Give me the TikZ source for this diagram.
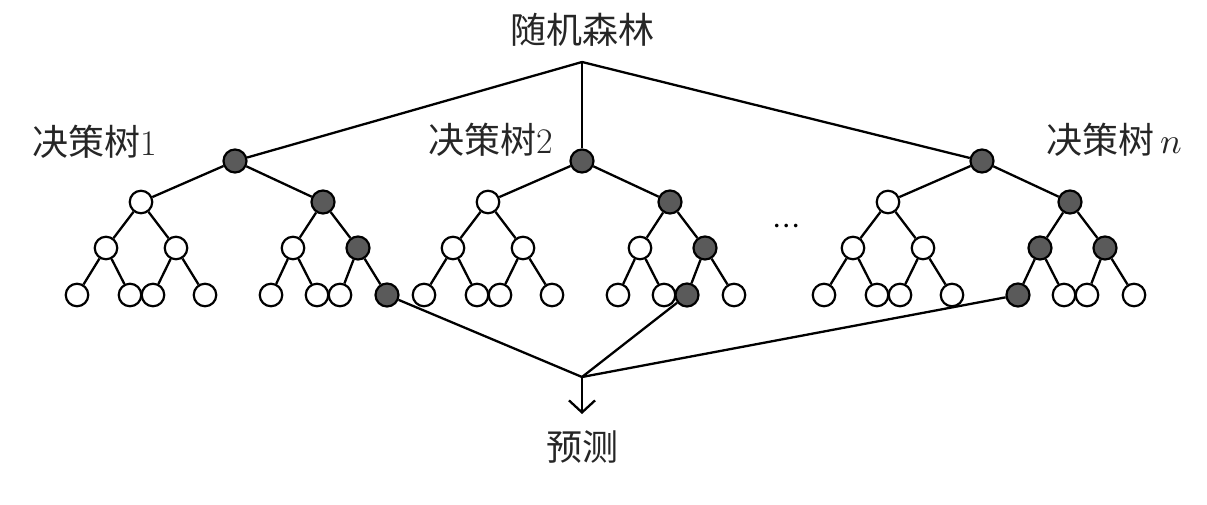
\documentclass[tikz,border=0pt]{standalone}
\usepackage{fontspec}
\usepackage{unicode-math}
\newfontfamily\cjk{Noto Sans CJK SC}
\usetikzlibrary{arrows.meta}
\definecolor{darkfill}{RGB}{90,90,90}
\newcommand\mytree[8]{%
\begin{scope}[shift={(#2,161)}]
\node[dnode] (#1r) at (0,0) {};
\node[wnode] (#1a) at (-94,41) {};
\node[dnode] (#1b) at (88,41) {};
\node[wnode] (#1aa) at (-129,87) {};
\node[wnode] (#1ab) at (-59,87) {};
\node[#3] (#1ba) at (58,87) {};
\node[#4] (#1bb) at (123,87) {};
\node[wnode] (#1aaa) at (-158,134) {};
\node[wnode] (#1aab) at (-105,134) {};
\node[wnode] (#1aba) at (-82,134) {};
\node[wnode] (#1abb) at (-30,134) {};
\node[#5] (#1baa) at (36,134) {};
\node[#6] (#1bab) at (82,134) {};
\node[#7] (#1bba) at (105,134) {};
\node[#8] (#1bbb) at (152,134) {};
\foreach \p/\c in {r/a,r/b,a/aa,a/ab,b/ba,b/bb,aa/aaa,aa/aab,ab/aba,ab/abb,ba/baa,ba/bab,bb/bba,bb/bbb}
  \draw[edge] (#1\p) -- (#1\c);
\end{scope}}
\begin{document}
\begin{tikzpicture}[x=1pt,y=-1pt,
  wnode/.style={circle,draw,line width=2.2pt,minimum size=22.5pt,inner sep=0pt,fill=white},
  dnode/.style={wnode,fill=darkfill,minimum size=23pt},
  edge/.style={line width=2.3pt},
  lab/.style={font=\fontsize{36}{40}\selectfont,inner sep=0pt,text=black!85}]
\useasboundingbox (0,0) rectangle (1207,505);
\node[lab] (title) at (582,30) {\cjk 随机森林};
\node[lab] (l1) at (95,142) {{\cjk 决策树}1};
\node[lab] (l2) at (491,140) {{\cjk 决策树}2};
\node[lab] (ln) at (1114,140) {{\cjk 决策树}\,$n$};
\node[inner sep=0pt,font=\fontsize{34}{40}\selectfont] (dots) at (787,229) {$\cdots$};
\mytree{t1}{235}{wnode}{dnode}{wnode}{wnode}{wnode}{dnode}
\mytree{t2}{582}{wnode}{dnode}{wnode}{wnode}{dnode}{wnode}
\mytree{tn}{982}{dnode}{dnode}{dnode}{wnode}{wnode}{wnode}
\coordinate (top) at (582,62);
\draw[edge] (top) -- (t1r);
\draw[edge] (top) -- (t2r);
\draw[edge] (top) -- (tnr);
\coordinate (bot) at (582,377);
\draw[edge] (t1bbb) -- (bot);
\draw[edge] (t2bba) -- (bot);
\draw[edge] (tnbaa) -- (bot);
\coordinate (aend) at (582,414);
\draw[edge,-{Straight Barb[length=12pt,width=26pt,line width=2.3pt]}] (bot) -- (aend);
\node[lab] (pred) at (582,447) {\cjk 预测};
\end{tikzpicture}
\end{document}
